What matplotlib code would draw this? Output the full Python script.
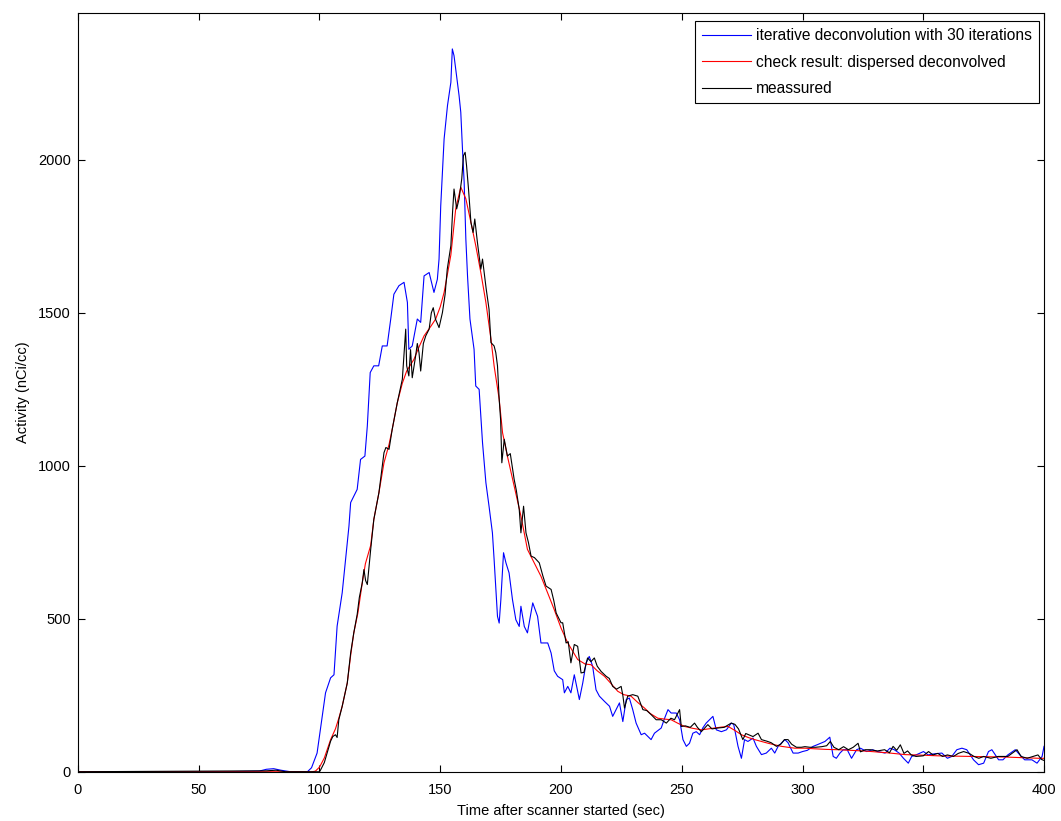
import matplotlib
matplotlib.use('Agg')
import matplotlib.pyplot as plt

plt.rcParams['font.family'] = ['Liberation Sans', 'DejaVu Sans']

# iterative deconvolution (blue)
blue_t = [0, 60, 75, 78, 81, 84, 88, 95, 96.7, 99, 102.5, 104.6, 106, 107.3, 109.4, 110.8, 112.2, 112.9,
          115.6, 117, 118.8, 119.8, 121, 122.5, 124.5, 126, 128, 129.5, 130.8, 132.9, 135, 136.4, 137,
          138.4, 140.5, 141.9, 143.3, 145.4, 147.4, 148.8, 149.5, 150.2, 150.9, 151.6, 153, 154.4, 155,
          155.7, 156.4, 157.8, 158.5, 159.2, 159.9, 160.6, 161.3, 162.3, 164, 164.7, 166.1, 167.5, 168.9,
          170.2, 171.6, 172.3, 173.7, 174.4, 175.1, 176.2, 177.2, 178.5, 179.9, 181.3, 182.7, 183.4,
          184.8, 186.1, 188.3, 190.3, 191.7, 194.5, 195.9, 197.2, 198.6, 200.7, 201.4, 202.8, 204.1,
          205.5, 207.6, 209, 210.4, 211.7, 213.1, 214.5, 215.9, 218, 220.1, 221.4, 222.8, 224.2, 225.6,
          227, 228.3, 229.7, 231.1, 233.2, 234.6, 236, 237.3, 238.7, 241.5, 242.9, 244.3, 245.6, 247.7,
          249.1, 250.5, 251.9, 253.2, 254.6, 256, 257.4, 258.7, 260.1, 261.5, 262.9, 264.3, 266.4, 268.5,
          270.5, 271.5, 273.3, 274.7, 276, 277.4, 279.5, 280.9, 283, 285, 287.1, 288.5, 289.9, 292.7, 294,
          296.1, 298.2, 300, 302, 304.4, 306, 309.3, 311.3, 312.7, 314, 315.5, 316.9, 318.5, 320.3, 322.4,
          324, 326.6, 329, 331, 334.2, 336.2, 338, 340, 341.8, 343.8, 345.2, 347, 350.1, 352, 354, 357.7,
          360, 361.8, 363.9, 366, 368, 370.8, 372.9, 375, 377, 378.4, 381.2, 383, 385, 388.1, 390, 392,
          395, 397.1, 399.2, 400]
blue_v = [0, 0, 2, 8, 10, 5, 0, 0, 13, 61, 258, 307, 317, 476, 585, 694, 803, 880,
          923, 1021, 1032, 1130, 1305, 1327, 1327, 1392, 1392, 1480, 1561, 1589, 1600, 1534, 1381,
          1392, 1480, 1469, 1621, 1632, 1567, 1610, 1676, 1850, 1959, 2069, 2178, 2254, 2363,
          2341, 2298, 2210, 2156, 2036, 1927, 1741, 1620, 1480, 1381, 1261, 1250, 1076, 945,
          868, 781, 694, 508, 486, 563, 716, 683, 650, 563, 497, 475, 541,
          475, 454, 552, 508, 421, 421, 388, 330, 312, 301, 258, 279, 258,
          317, 236, 290, 356, 377, 345, 268, 247, 230, 214, 181, 203, 225, 164,
          236, 241, 203, 159, 121, 126, 115, 105, 126, 143, 175, 203, 192, 192,
          170, 105, 83, 93, 126, 131, 121, 143, 159, 170, 181, 137, 131, 137,
          159, 155, 83, 44, 105, 99, 110, 83, 56, 61, 77, 61, 83, 105, 95,
          61, 61, 66, 70, 83, 88, 99, 113, 50, 44, 61, 72, 72, 44, 72,
          77, 66, 72, 66, 61, 77, 72, 61, 44, 28, 50, 55, 66, 55, 58, 61,
          44, 50, 72, 77, 72, 39, 23, 28, 66, 72, 39, 39, 55, 72, 55, 39,
          39, 28, 50, 83]

# dispersed deconvolved check (red)
red_t = [0, 97, 98.3, 100, 102, 104.6, 106.6, 108, 109.4, 111.5, 112.9, 114.2, 115.9, 117.7, 119, 121.2,
         122.5, 124.6, 126.7, 128.8, 130.1, 132.2, 134.3, 136.1, 139.1, 141, 143.3, 146, 148.1, 150,
         151.6, 153.6, 154.4, 156.4, 158.5, 160.6, 162.7, 164.7, 166.8, 168.9, 171, 172.3, 174.4, 175.8,
         177.8, 180.6, 183.4, 186.1, 188.9, 191.7, 194.5, 197.2, 200, 202.8, 206.9, 210, 212.4, 215, 218,
         220.5, 223.5, 226, 229, 232, 234.6, 237, 240.1, 243, 245.6, 248.5, 251.2, 254.5, 258.1, 261,
         263.6, 266.5, 269.2, 272, 274.7, 277.5, 280.2, 283, 285.8, 288.5, 291.3, 294, 296.8, 301, 305,
         310, 314.8, 320, 325, 328.6, 335, 342.5, 350, 356.3, 363, 370.1, 377, 384, 391, 397.8, 400]
red_v = [0, 0, 2, 15, 45, 105, 140, 175, 214, 290, 380, 454, 519, 617, 680, 740,
         825, 912, 1010, 1070, 1119, 1206, 1270, 1310, 1348, 1385, 1425, 1455, 1480, 1520,
         1567, 1654, 1690, 1840, 1911, 1873, 1796, 1720, 1632, 1534, 1414, 1327, 1218, 1108,
         1032, 934, 836, 727, 683, 639, 584, 530, 470, 421, 367, 352, 350, 330, 312,
         290, 263, 252, 247, 225, 208, 190, 175, 172, 170, 158, 148, 142, 137, 140,
         143, 146, 148, 135, 121, 112, 105, 99, 93, 88, 83, 80, 77, 77, 75,
         73, 72, 70, 68, 66, 62, 56, 54, 52, 51, 50, 49, 48, 46, 44, 44]

# measured (black)
meas_t = [0, 78, 82, 86, 100, 100.4, 102, 104.6, 105.5, 106.6, 107.3, 108, 109.4, 111.5, 112.9, 114.2,
          115.6, 116.5, 117.7, 118.4, 119.1, 119.8, 121.2, 122.5, 124.6, 126.7, 127.5, 128.8, 130.1,
          132.2, 134.3, 135.7, 136.1, 137, 137.7, 138.4, 139.8, 140.5, 141.2, 141.9, 143, 144, 145.4,
          146.3, 147.1, 148, 149.5, 150.9, 152, 152.9, 154.4, 155.1, 155.7, 156.8, 157.8, 158.9, 159.6,
          160.3, 160.9, 161.7, 162.7, 163.6, 164.3, 165.4, 166.8, 167.5, 168.2, 169, 170.2, 171, 172.3,
          173, 173.7, 174.4, 175, 175.5, 176.5, 177.8, 179, 180.6, 181.5, 182.7, 183.4, 184.5, 185.5,
          186.5, 187.6, 189, 191, 192.5, 193.8, 195.9, 197, 198, 200, 200.7, 202.1, 203, 204.1, 205.5,
          206.9, 208.3, 209.5, 211, 212.4, 213.8, 215, 216.6, 218.7, 220, 221.4, 223, 224.9, 225.6,
          226.3, 227.6, 229.7, 231.8, 233.9, 235.5, 237.3, 239.4, 241.5, 243.6, 245.5, 247, 249.1, 249.8,
          251.5, 253.5, 255.3, 256.5, 258.1, 260.8, 262.5, 265, 267.5, 270.5, 272, 273.5, 275.3, 276.5,
          279.5, 281.6, 283, 285.2, 287, 289.2, 291, 292.5, 294, 295.5, 297.5, 299.5, 301, 303, 305.5,
          308, 310, 311.5, 313, 315, 317, 319, 321, 323, 324, 326, 328, 331, 334, 336, 337.5, 339,
          340.5, 342, 343.5, 345, 347, 350, 352.2, 354, 356, 358, 360, 362.5, 364.5, 366.7, 369, 371,
          373, 375, 378, 381, 385, 388.8, 390.5, 393, 395.5, 397.5, 399, 400]
meas_v = [0, 3, 5, 0, 0, 5, 30, 100, 115, 121, 112, 170, 214, 290, 388, 454,
          514, 570, 617, 661, 625, 612, 727, 825, 912, 1043, 1060, 1054, 1119,
          1206, 1283, 1447, 1327, 1294, 1380, 1288, 1359, 1400, 1370, 1310, 1400, 1425, 1447,
          1500, 1517, 1480, 1452, 1501, 1560, 1643, 1720, 1830, 1905, 1840, 1873, 1938, 2014,
          2025, 1981, 1905, 1796, 1763, 1807, 1730, 1643, 1676, 1632, 1580, 1512, 1403, 1392,
          1370, 1327, 1218, 1150, 1010, 1087, 1032, 1040, 956, 920, 858, 781, 868, 781,
          750, 705, 700, 683, 640, 607, 596, 560, 519, 487, 487, 421, 425, 356, 416,
          410, 323, 325, 372, 360, 372, 345, 328, 312, 305, 279, 270, 279, 250,
          208, 247, 252, 247, 203, 200, 187, 170, 170, 159, 175, 170, 203, 148,
          150, 145, 159, 145, 131, 154, 140, 143, 145, 159, 155, 140, 105, 125,
          115, 126, 105, 100, 95, 83, 90, 105, 105, 90, 80, 80, 82, 80, 80,
          82, 85, 99, 80, 72, 82, 72, 80, 93, 65, 72, 72, 68, 72, 62, 83, 70,
          88, 60, 68, 55, 50, 52, 66, 55, 60, 50, 55, 50, 60, 66, 60, 50,
          44, 50, 44, 50, 50, 72, 50, 44, 50, 55, 40, 37]

labels = ['iterative deconvolution with 30 iterations',
          'check result: dispersed deconvolved',
          'meassured']

fig = plt.figure(figsize=(10.61, 8.21), dpi=100)
ax = fig.add_axes([0.0735, 0.06, 0.9105, 0.924])

ax.plot(blue_t, blue_v, color='#0000ff', linewidth=0.8, label=labels[0])
ax.plot(red_t, red_v, color='#ff0000', linewidth=0.8, label=labels[1])
ax.plot(meas_t, meas_v, color='black', linewidth=0.8, label=labels[2])

ax.set_xlim(0, 400)
ax.set_ylim(0, 2480)
ax.set_xticks(range(0, 401, 50))
ax.set_yticks(range(0, 2001, 500))
ax.tick_params(direction='in', top=True, right=True, length=5, width=0.8, labelsize=10.5)
ax.tick_params(axis='x', pad=8)
ax.tick_params(axis='y', pad=5)
for s in ax.spines.values():
    s.set_linewidth(0.8)

ax.set_xlabel('Time after scanner started (sec)', fontsize=10.5, labelpad=5)
ax.set_ylabel('Activity (nCi/cc)', fontsize=10.5, labelpad=6)

leg = ax.legend(loc='upper right', bbox_to_anchor=(0.9948, 0.9895), borderaxespad=0,
                fontsize=11.2, fancybox=False, framealpha=1, edgecolor='black',
                handlelength=3.1, handletextpad=0.35, labelspacing=0.75, borderpad=0.45)
leg.get_frame().set_linewidth(0.8)

fig.savefig('out.png', dpi=100)
